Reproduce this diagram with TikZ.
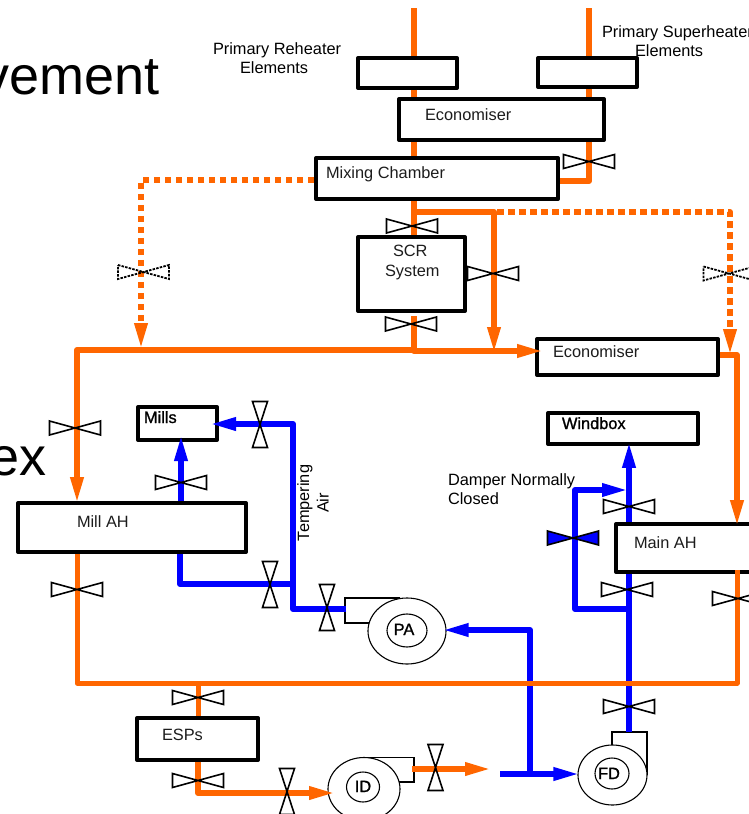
\documentclass[tikz,border=0pt]{standalone}
\usepackage{fontspec}
\setmainfont{Liberation Sans}
\newfontfamily\fakebold{Liberation Sans}[RawFeature={embolden=1.2}]
\usetikzlibrary{arrows.meta,shapes.geometric,calc}
\definecolor{ora}{HTML}{FF6600}
\definecolor{blu}{HTML}{0000FF}
\definecolor{ink}{HTML}{1C1C1C}
\tikzset{
  box/.style={draw=black,fill=white,line width=3.4pt,rectangle,inner sep=0pt,line join=round},
  oline/.style={draw=ora,line width=6pt,line join=round},
  othin/.style={draw=ora,line width=5pt,line join=round},
  odot/.style={draw=ora,line width=6pt,dash pattern=on 6.5pt off 4.5pt,line join=round},
  bline/.style={draw=blu,line width=6pt,line join=round},
  tip/.style={-{Triangle[length=27pt,width=12pt]},shorten >=-3pt},
  valve/.style={draw=black,line width=1.6pt,line join=miter},
  valvedot/.style={draw=black,line width=1.8pt,dash pattern=on 2.5pt off 1.2pt},
  fanline/.style={draw=black,line width=1.1pt,fill=white},
  lbl/.style={inner sep=0pt,outer sep=0pt,font=\fontsize{16.35}{19.5}\selectfont,align=left,text=black},
  boxlbl/.style={lbl,text=ink},
  boldlbl/.style={lbl,font=\fontsize{16.35}{19.5}\selectfont\fakebold},
  bigtext/.style={inner sep=0pt,outer sep=0pt,font=\fontsize{54}{60}\selectfont,text=black}
}
\newcommand\bx[5]{\node[box,minimum width={#4-#2-1.7},minimum height={#5-#3-1.7}] (#1) at ({(#2+#4)/2},{(#3+#5)/2}) {};}
\newcommand\vh[4][valve]{\coordinate (#2) at (#3,#4);\draw[#1,shift={(#3,#4)}] (-25.5,-7) -- (25.5,7) -- (25.5,-7) -- (-25.5,7) -- cycle;}
\newcommand\vv[3]{\coordinate (#1) at (#2,#3);\draw[valve,shift={(#2,#3)}] (-7.5,-23) -- (7.5,23) -- (-7.5,23) -- (7.5,-23) -- cycle;}
\begin{document}
\begin{tikzpicture}[x=1pt,y=-1pt]
\useasboundingbox (0,0) rectangle (749,814);
\clip (0,0) rectangle (749,814);
% large slide text behind the diagram
\node[bigtext,anchor=base east] (bigA) at (160,94) {vement};
\node[bigtext,anchor=base east] (bigB) at (47,475) {ex};
% column coordinates
\coordinate (xa) at (414,0);
\coordinate (xb) at (589,0);
\coordinate (xc) at (494,0);
\coordinate (xd) at (730,0);
\coordinate (xe) at (737,0);
\coordinate (xf) at (77,0);
\coordinate (xh) at (198,0);
\coordinate (xi) at (181,0);
\coordinate (xk) at (629,0);
\coordinate (xl) at (575,0);
% boxes
\bx{rh}{357}{57}{458}{89}
\bx{sh}{537}{57}{638}{88}
\bx{ecoa}{398}{98}{605}{141}
\bx{mix}{315}{157}{559}{200}
\bx{scr}{357}{236}{466}{312}
\bx{ecob}{536}{338}{719}{376}
\bx{mills}{137}{406}{218}{441}
\bx{millah}{17}{502}{247}{553}
\bx{esp}{136}{717}{259}{761}
\bx{wind}{547}{412}{699}{445}
\bx{mainah}{615}{523}{790}{573}
% fans
\draw[fanline] (400,598) -- (345,598) -- (345,623) -- (375,623);
\node[ellipse,fanline,minimum width=78pt,minimum height=66pt,inner sep=0pt] (pa) at (407,631) {};
\node[ellipse,fanline,minimum width=40pt,minimum height=33pt,inner sep=0pt] (pai) at (407,630.5) {};
\draw[fanline] (364,757.5) -- (414,757.5) -- (414,782) -- (395,782);
\node[ellipse,fanline,minimum width=72pt,minimum height=63pt,inner sep=0pt] (id) at (364,789) {};
\node[ellipse,fanline,minimum width=33pt,minimum height=30pt,inner sep=0pt] (idi) at (363,787) {};
\draw[fanline] (612,748) -- (612,732) -- (647,732) -- (647,775);
\node[ellipse,fanline,minimum width=69pt,minimum height=60pt,inner sep=0pt] (fd) at (612.5,775) {};
\node[ellipse,fanline,minimum width=34pt,minimum height=31pt,inner sep=0pt] (fdi) at (612,773.5) {};
% junction coordinates
\coordinate (ta) at (414,8);
\coordinate (tb) at (589,8);
\coordinate (ka) at (589,181);
\coordinate (ja) at (414,212);
\coordinate (jb) at (494,351);
\coordinate (jd) at (497,212);
\coordinate (je) at (730,353);
\coordinate (jf) at (414,316);
\coordinate (jg) at (414,351);
\coordinate (jh) at (414,350);
\coordinate (ma) at (141,180);
\coordinate (mb) at (141,347);
\coordinate (ea) at (737,355);
\coordinate (ba) at (737,570);
\coordinate (bb) at (737,683);
\coordinate (bc) at (198,683);
\coordinate (ed) at (198,793);
\coordinate (ia) at (412,769);
\coordinate (ib) at (489,769);
\coordinate (fa) at (500,774);
\coordinate (fb) at (530,774);
\coordinate (fc) at (530,630);
\coordinate (ga) at (629,732);
\coordinate (gb) at (629,609);
\coordinate (gc) at (575,490);
\coordinate (gd) at (626,490);
\coordinate (mb2) at (181,437);
\coordinate (na) at (180,584);
\coordinate (nb) at (293,584);
\coordinate (nc) at (293,424);
\coordinate (nd) at (212,424);
\coordinate (ne) at (293,609);
\coordinate (nf) at (346,609);
\coordinate (ie) at (333,793);
% blue ducts
\draw[bline,tip] (xi |- millah.north) -- (mb2);
\draw[bline] (na |- millah.south) -- (na) -- (nb);
\draw[bline] (ne) -- (nc);
\draw[bline,tip] (nf) -- (ne) -- (nc) -- (nd);
\draw[bline,tip] (fa) -- (fd.west |- fa);
\draw[bline,tip,shorten >=-5pt] (fb) -- (fc) -- (pa.east |- fc);
\draw[bline] (ga) -- (xk |- mainah.south);
\draw[bline,tip,shorten >=-5pt] (xk |- mainah.north) -- (xk |- wind.south);
\draw[bline,tip] (gb) -- (xl |- gb) -- (gc) -- (gd);
% orange ducts
\draw[oline] (ta) -- (xa |- rh.north);
\draw[oline] (xa |- rh.south) -- (xa |- ecoa.north);
\draw[oline] (xa |- ecoa.south) -- (xa |- mix.north);
\draw[oline] (xa |- mix.south) -- (xa |- scr.north);
\draw[oline] (tb) -- (xb |- sh.north);
\draw[oline] (xb |- sh.south) -- (xb |- ecoa.north);
\draw[oline] (xb |- ecoa.south) -- (ka) -- (mix.east |- ka);
\draw[oline,tip] (ja) -- (xc |- ja) -- (jb);
\draw[odot,tip] (jd) -- (xd |- jd) -- (je);
\draw[oline,tip,shorten >=-9pt] (jf) -- (jg) -- (ecob.west |- jg);
\draw[oline,tip] (jh) -- (xf |- jh) -- (xf |- millah.north);
\draw[odot,tip] (mix.west |- ma) -- (ma) -- (mb);
\draw[oline,tip,shorten >=-5pt] (ecob.east |- ea) -- (ea) -- (xe |- mainah.north);
\draw[othin] (ba) -- (bb) -- (xf |- bb) -- (xf |- millah.south);
\draw[othin] (bc) -- (xh |- esp.north);
\draw[oline,tip] (xh |- esp.south) -- (ed) -- (ie);
\draw[oline,tip] (ia) -- (ib);
% valves
\vh{va}{589}{161.5}
\vh{vb}{412}{226}
\vh{vc}{411}{324}
\vh{vd}{493}{273.5}
\vh[valvedot]{ve}{143.5}{272}
\vh[valvedot]{vf}{729}{273.5}
\vh{vg}{75}{428}
\vh{vh}{181}{482.5}
\vh{vi}{77}{589.5}
\vh{vj}{198}{697.5}
\vh{vk}{198}{780.5}
\vh{vl}{629}{506.5}
\vh[valve,fill=blu]{vm}{573}{538}
\vh{vn}{627}{589.5}
\vh{vo}{738}{598.5}
\vh{vp}{629}{706.5}
\vv{vq}{260}{424.5}
\vv{vr}{270}{584.5}
\vv{vs}{327}{607.5}
\vv{vt}{287}{791.5}
\vv{vu}{435.5}{767.5}
% labels
\node[lbl,anchor=north west] (lrh) at (213,42.5) {Primary Reheater\\\hspace*{27pt}Elements};
\node[lbl,anchor=north west] (lsh) at (602,25.5) {Primary Superheater\\\hspace*{33pt}Elements};
\node[boxlbl,anchor=base west] (tecoa) at (425,120) {Economiser};
\node[boxlbl,anchor=base west] (tmix) at (326,178) {Mixing Chamber};
\node[boxlbl,anchor=north west] (tscr) at (385,245.5) {\hspace*{8pt}SCR\\System};
\node[boxlbl,anchor=base west] (tecob) at (553,357) {Economiser};
\node[boldlbl,anchor=base west] (tmills) at (144,423) {Mills};
\node[boldlbl,anchor=base west] (twind) at (562,429) {Windbox};
\node[lbl,anchor=north west] (tdamp) at (448,473.5) {Damper Normally\\Closed};
\node[boxlbl,anchor=base west] (tmill) at (77,527) {Mill AH};
\node[boxlbl,anchor=base west] (tmain) at (634,548) {Main AH};
\node[lbl,rotate=90,align=center] (ttemp) at (313,503) {Tempering\\Air};
\node[boxlbl,anchor=base west] (tesp) at (162,740) {ESPs};
\node[boldlbl,anchor=base] (tpa) at (404,635) {PA};
\node[boldlbl,anchor=base] (tid) at (363,792) {ID};
\node[boldlbl,anchor=base] (tfd) at (609,779) {FD};
\end{tikzpicture}
\end{document}
